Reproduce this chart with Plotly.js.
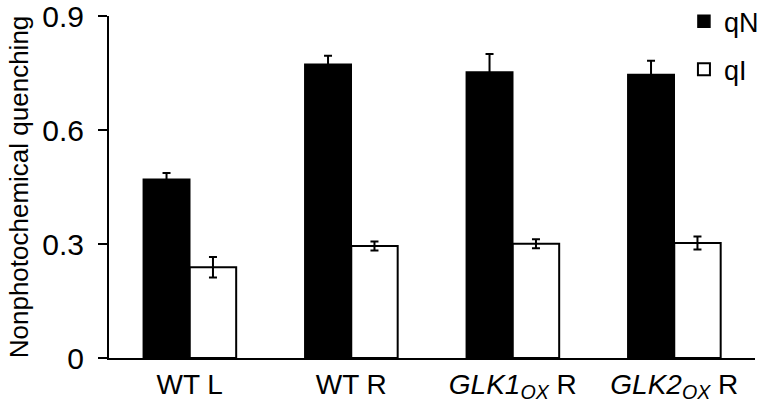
<!DOCTYPE html>
<html>
<head>
<meta charset="utf-8">
<script src="https://cdn.plot.ly/plotly-3.0.1.min.js"></script>
<style>html,body{margin:0;padding:0;background:#fff}#chart{width:760px;height:407px}</style>
</head>
<body>
<div id="chart"></div>
<script>
var categories = ["WT L", "WT R", "<i>GLK1<sub>OX</sub></i> R", "<i>GLK2<sub>OX</sub></i> R"];
var qN = [0.471, 0.774, 0.753, 0.747];
var qNErr = [0.016, 0.022, 0.048, 0.036];
var qI = [0.239, 0.295, 0.301, 0.303];
var qIErr = [0.027, 0.012, 0.012, 0.017];
var yTicks = [0, 0.3, 0.6, 0.9];
var yTickLabels = ["0", "0.3", "0.6", "0.9"];

var font = "Liberation Sans, Arial, sans-serif";

var traces = [
  {
    type: "bar", name: "qN", x: categories, y: qN, legendgroup: "a",
    marker: {color: "#000000", line: {color: "#000000", width: 1.5}},
    error_y: {type: "data", array: qNErr, visible: true, color: "#000000", thickness: 2, width: 4}
  },
  {
    type: "bar", name: "qI", x: categories, y: qI, legendgroup: "b",
    marker: {color: "#ffffff", line: {color: "#000000", width: 2}},
    error_y: {type: "data", array: qIErr, visible: true, color: "#000000", thickness: 2, width: 4}
  }
];

var layout = {
  width: 760, height: 407,
  margin: {l: 109, r: 5, t: 16, b: 49, autoexpand: false},
  paper_bgcolor: "#ffffff", plot_bgcolor: "#ffffff",
  barmode: "group", bargap: 0.425, bargroupgap: 0,
  font: {family: font, color: "#000000", size: 28},
  showlegend: true,
  legend: {
    x: 0.89, y: 1.055, xanchor: "left", yanchor: "top",
    font: {family: font, size: 27, color: "#000000"},
    bgcolor: "rgba(0,0,0,0)", tracegroupgap: 10, traceorder: "grouped"
  },
  xaxis: {
    automargin: false,
    showline: true, linecolor: "#000000", linewidth: 2,
    ticks: "", showgrid: false, zeroline: false,
    tickfont: {family: font, size: 28, color: "#000000"}
  },
  yaxis: {
    automargin: false,
    ticklabeloverflow: "allow",
    range: [0, 0.9008], tickvals: yTicks, ticktext: yTickLabels,
    showline: true, linecolor: "#000000", linewidth: 2,
    ticks: "outside", ticklen: 9, tickwidth: 2, tickcolor: "#000000",
    showgrid: false, zeroline: false,
    tickfont: {family: font, size: 30, color: "#000000"},
    ticklabelstandoff: 8,
    title: {text: "Nonphotochemical quenching", font: {family: font, size: 26, color: "#000000"}, standoff: 6}
  }
};

Plotly.newPlot("chart", traces, layout, {displayModeBar: false, staticPlot: true});
</script>
</body>
</html>
